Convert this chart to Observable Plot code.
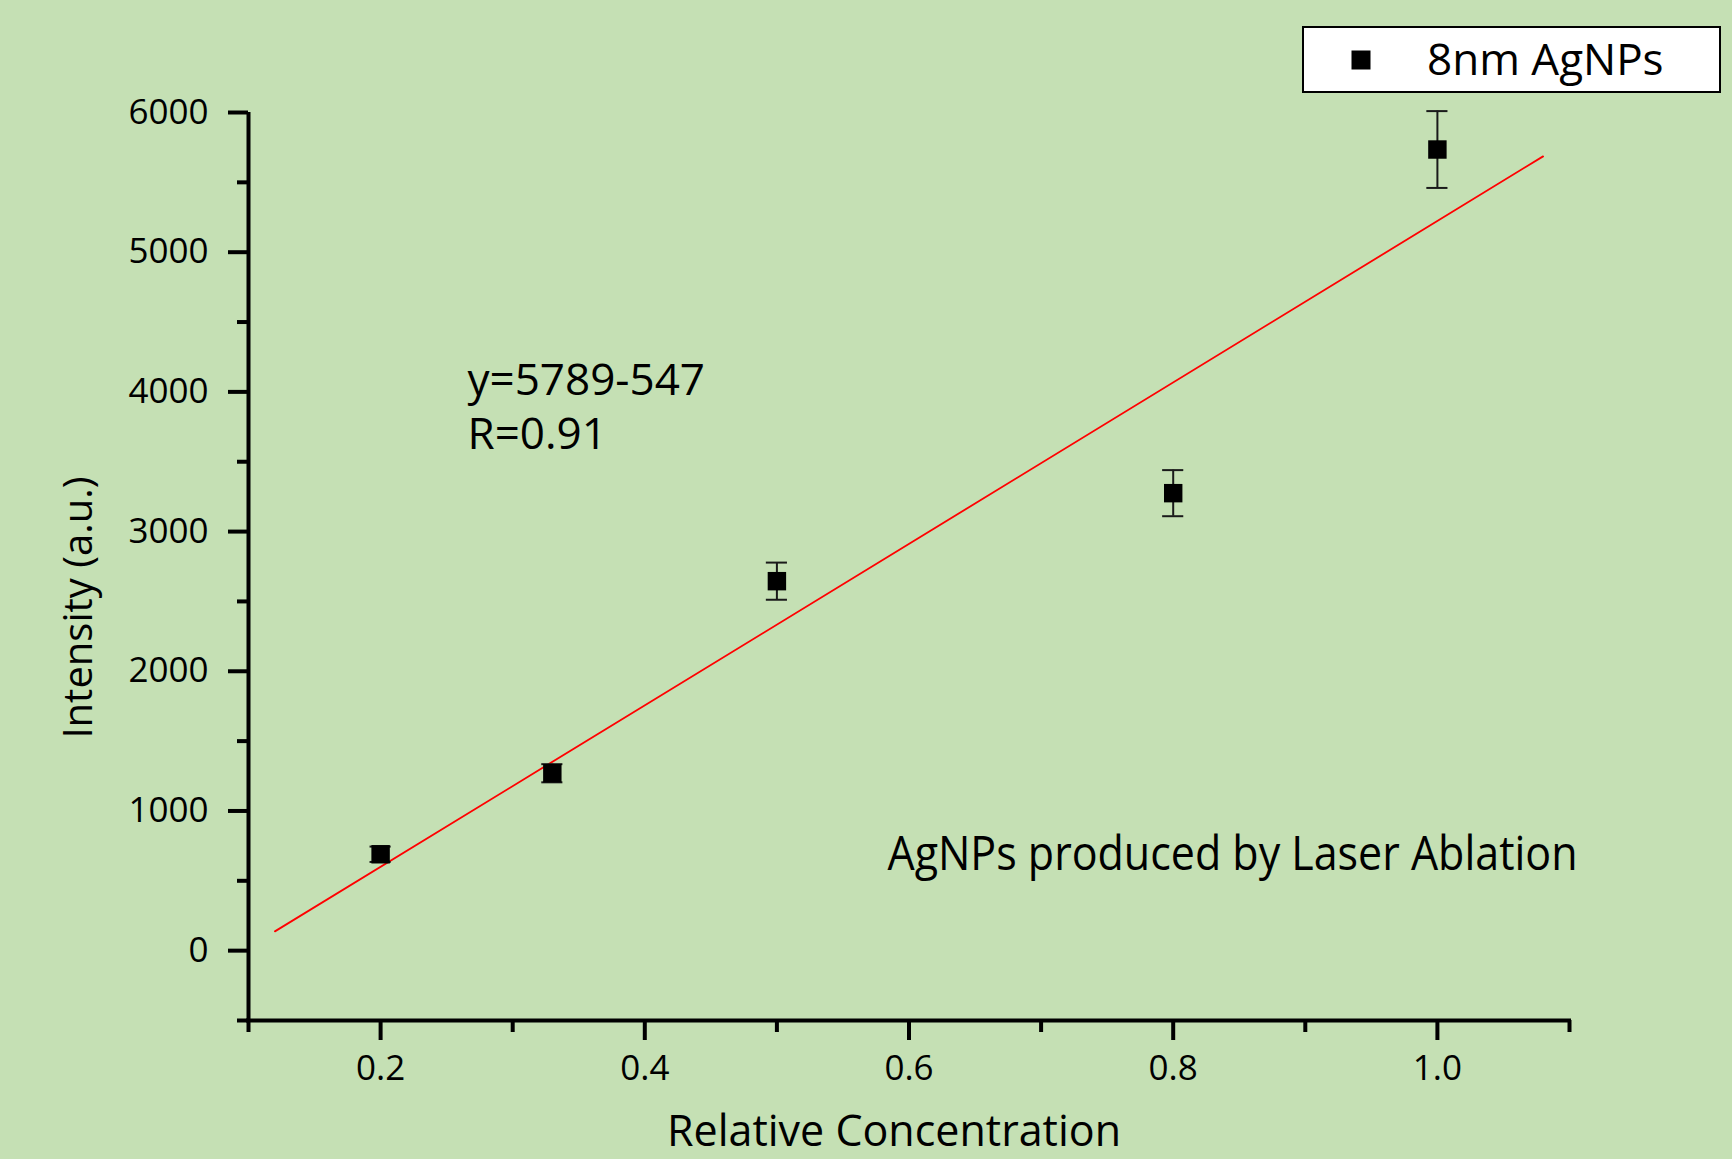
<!DOCTYPE html>
<html>
<head>
<meta charset="utf-8">
<script src="https://cdn.jsdelivr.net/npm/d3@7"></script>
<script src="https://cdn.jsdelivr.net/npm/@observablehq/plot@0.6"></script>
<style>
  html, body { margin: 0; padding: 0; background: #c5e0b4; }
  #chart svg { display: block; }
</style>
</head>
<body>
<div id="chart"></div>
<script>
// ---- data ----
const concentration = [0.2, 0.33, 0.5, 0.8, 1.0];
const intensity = [690, 1270, 2645, 3275, 5735];
const errorBar = [55, 65, 133, 165, 275];
const fitX = [0.12, 1.08];
const fitY = [138, 5686];
const xMajorTicks = [0.2, 0.4, 0.6, 0.8, 1.0];
const xMinorTicks = [0.1, 0.3, 0.5, 0.7, 0.9, 1.1];
const yMajorTicks = [0, 1000, 2000, 3000, 4000, 5000, 6000];
const yMinorTicks = [-500, 500, 1500, 2500, 3500, 4500, 5500];
const seriesName = "8nm AgNPs";
const equationLines = ["y=5789-547", "R=0.91"];
const noteText = "AgNPs produced by Laser Ablation";
const xTitle = "Relative Concentration";
const yTitle = "Intensity (a.u.)";

const points = concentration.map((c, i) => ({x: c, y: intensity[i], e: errorBar[i]}));
const fit = fitX.map((x, i) => ({x, y: fitY[i]}));

const FONT = "'Open Sans', sans-serif";
const capHalf = 0.008;

const chart = Plot.plot({
  width: 1732,
  height: 1159,
  marginLeft: 248,
  marginRight: 163,
  marginTop: 112,
  marginBottom: 139,
  style: {background: "#c5e0b4", fontFamily: FONT, color: "black"},
  x: {domain: [0.1, 1.1]},
  y: {domain: [-500, 6000]},
  marks: [
    // axes lines
    Plot.ruleY([-500], {x1: 0.1, x2: 1.1, stroke: "black", strokeWidth: 4, strokeLinecap: "square"}),
    Plot.ruleX([0.1], {y1: -500, y2: 6000, stroke: "black", strokeWidth: 4, strokeLinecap: "butt"}),
    // ticks
    Plot.axisX(xMajorTicks, {tickSize: 20, strokeWidth: 4, tickPadding: 15, fontSize: 35, tickFormat: d3.format(".1f"), label: null, fill: "black"}),
    Plot.axisX(xMinorTicks, {tickSize: 12, strokeWidth: 4, text: null, label: null}),
    Plot.axisY(yMajorTicks, {tickSize: 20, strokeWidth: 4, tickPadding: 20, fontSize: 35, tickFormat: d3.format("d"), label: null, fill: "black"}),
    Plot.axisY(yMinorTicks, {tickSize: 11, strokeWidth: 4, text: null, label: null}),
    // fit line
    Plot.line(fit, {x: "x", y: "y", stroke: "#ff0000", strokeWidth: 1.8}),
    // error bars
    Plot.ruleX(points, {x: "x", y1: d => d.y - d.e, y2: d => d.y + d.e, stroke: "#1a1a1a", strokeWidth: 2}),
    Plot.ruleY(points, {y: d => d.y - d.e, x1: d => d.x - capHalf, x2: d => d.x + capHalf, stroke: "#1a1a1a", strokeWidth: 2}),
    Plot.ruleY(points, {y: d => d.y + d.e, x1: d => d.x - capHalf, x2: d => d.x + capHalf, stroke: "#1a1a1a", strokeWidth: 2}),
    // markers
    Plot.dot(points, {x: "x", y: "y", symbol: "square", r: 10.4, fill: "black", stroke: "none"}),
    // annotations
    Plot.text([equationLines.join("\n")], {frameAnchor: "top-left", text: d => d, dx: 219, dy: 336, textAnchor: "start", lineAnchor: "bottom", lineHeight: 1.227, fontSize: 44, fill: "black"}),
    Plot.text([noteText], {frameAnchor: "top-left", text: d => d, dx: 639, dy: 757, textAnchor: "start", lineAnchor: "bottom", fontSize: 48, fill: "black", className: "cond-note"}),
    // axis titles
    Plot.text([xTitle], {frameAnchor: "bottom", text: d => d, dx: -15, dy: 125, textAnchor: "middle", lineAnchor: "bottom", fontSize: 43, fill: "black"}),
    Plot.text([yTitle], {frameAnchor: "left", text: d => d, dx: -157, dy: 41, rotate: -90, textAnchor: "middle", lineAnchor: "bottom", fontSize: 40, fill: "black"})
  ]
});

document.getElementById("chart").appendChild(chart);

const svg = d3.select(chart);
svg.selectAll(".cond-note text").attr("textLength", 690).attr("lengthAdjust", "spacingAndGlyphs");

// legend
const lg = svg.append("g").attr("class", "legend");
lg.append("rect").attr("x", 1303).attr("y", 27).attr("width", 417).attr("height", 65)
  .attr("fill", "white").attr("stroke", "black").attr("stroke-width", 2);
lg.append("rect").attr("x", 1351.5).attr("y", 50.5).attr("width", 19).attr("height", 19).attr("fill", "black");
lg.append("text").attr("x", 1427).attr("y", 75).attr("font-size", 44).attr("text-anchor", "start")
  .attr("font-family", FONT).attr("fill", "black").text(seriesName);
</script>
</body>
</html>
